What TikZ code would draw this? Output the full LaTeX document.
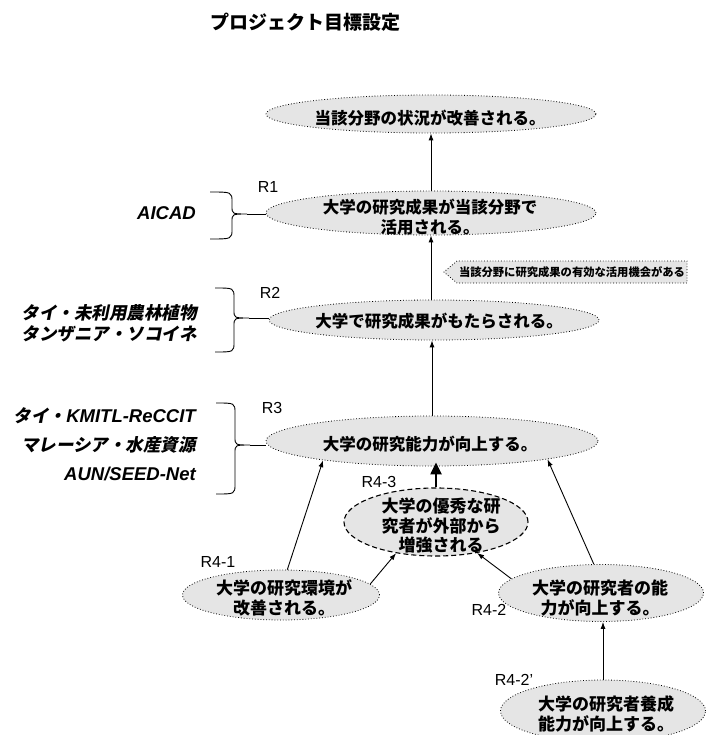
\documentclass[tikz,border=0pt]{standalone}
\usepackage{fontspec}
\setmainfont{Noto Sans CJK JP}
\newfontfamily\jpsl{Noto Sans CJK JP}[FakeSlant=0.2]
\newfontfamily\latf{Liberation Sans}
\usetikzlibrary{shapes.geometric,shapes.symbols,arrows.meta,calc}

\tikzset{
 ell/.style={ellipse, draw, dotted, line width=0.8pt, fill=black!10, inner sep=0pt},
 dell/.style={ellipse, draw, dash pattern=on 5pt off 3pt, line width=1.1pt, fill=black!10, inner sep=0pt},
 etxt/.style={align=center, font=\bfseries\fontsize{16.5}{19.5}\selectfont, inner sep=0pt},
 ftxt/.style={align=center, font=\bfseries\fontsize{17}{19.5}\selectfont, inner sep=0pt},
 rlab/.style={font=\latf\fontsize{16}{18}\selectfont, inner sep=0pt},
 plab/.style={anchor=east, align=right, font=\jpsl\bfseries\fontsize{17.5}{21}\selectfont, inner sep=0pt},
 plabw/.style={plab, font=\jpsl\bfseries\fontsize{17.5}{29}\selectfont},
 arr/.style={-{Latex[length=7pt,width=5pt]}, line width=0.9pt},
 bigarr/.style={-{Triangle[length=12pt,width=11pt]}, line width=2.2pt},
 brc/.style={line width=0.9pt},
}
\newcommand\jbrace[6]{% top, bottom, tip y, name, end x, vertical x
 \draw[brc] (#5,#1) .. controls (#6,#1) .. (#6,#1+10) -- (#6,#3-8)
   .. controls (#6,#3) .. (#6+15,#3) coordinate (#4)
   .. controls (#6,#3) .. (#6,#3+8) -- (#6,#2-10)
   .. controls (#6,#2) .. (#5,#2);}
\newcommand\latbi[1]{{\latf\bfseries\itshape\fontsize{18.5}{21}\selectfont #1}}

\begin{document}
\begin{tikzpicture}[x=1pt,y=-1pt]
\useasboundingbox (0,0) rectangle (706,735);
\fill[white] (0,0) rectangle (706,735);
\clip (0,0) rectangle (706,735);

% title
\node[font=\bfseries\fontsize{19}{22}\selectfont, inner sep=0pt] (title) at (305,22) {プロジェクト目標設定};

% main ellipses
\node[ell, minimum width=330pt, minimum height=38pt] (e0) at (431,114) {};
\node[etxt] (t0) at (430,118) {当該分野の状況が改善される。};

\node[ell, minimum width=330pt, minimum height=44pt] (e1) at (431,213) {};
\node[etxt] (t1) at (430,217) {大学の研究成果が当該分野で\\活用される。};

\node[ell, minimum width=330pt, minimum height=40pt] (e2) at (434,320) {};
\node[etxt] (t2) at (439,321) {大学で研究成果がもたらされる。};

\node[ell, minimum width=332pt, minimum height=50pt] (e3) at (432,441) {};
\node[etxt] (t3) at (430,444) {大学の研究能力が向上する。};

% lower ellipses
\node[dell, minimum width=184pt, minimum height=68pt] (e43) at (436,522) {};
\node[ftxt] (t43) at (441,526) {大学の優秀な研\\究者が外部から\\増強される};

\node[ell, minimum width=197pt, minimum height=50pt] (e41) at (281,595) {};
\node[ftxt] (t41) at (284,598) {大学の研究環境が\\改善される。};

\node[ell, minimum width=205pt, minimum height=57pt] (e42) at (601,593) {};
\node[ftxt] (t42) at (600,598) {大学の研究者の能\\力が向上する。};

\node[ell, minimum width=205pt, minimum height=62pt] (e422) at (603,711) {};
\node[ftxt] (t422) at (606,714) {大学の研究者養成\\能力が向上する。};

% callout
\node[signal, signal to=west, signal pointer angle=80, draw, dotted, line width=0.8pt,
      fill=black!10, font=\bfseries\fontsize{11.3}{13}\selectfont,
      inner xsep=2pt, inner ysep=2pt, minimum height=22pt] (cond) at (572,272)
      {当該分野に研究成果の有効な活用機会がある};

% R labels
\node[rlab] (r1) at (268,187) {R1};
\node[rlab] (r2) at (270,293) {R2};
\node[rlab] (r3) at (272,408) {R3};
\node[rlab] (r43) at (379,482) {R4-3};
\node[rlab] (r41) at (218,562) {R4-1};
\node[rlab] (r42) at (489,610) {R4-2};
\node[rlab] (r422) at (514,680) {R4-2’};

% project labels
\node[plab] (p1) at (196,213) {\latbi{AICAD}};
\node[plab] (p2) at (197,323) {タイ・未利用農林植物\\タンザニア・ソコイネ};
\node[plabw] (p3) at (196,444) {タイ・\latbi{KMITL-ReCCIT}\\マレーシア・水産資源\\\latbi{AUN/SEED-Net}};

% braces
\jbrace{192}{239}{214}{b1}{210}{232}
\jbrace{288}{352}{318}{b2}{215}{234}
\jbrace{403}{494}{445}{b3}{216}{235}
\draw[brc] (b1) -- (b1 -| e1.west);
\draw[brc] (b2) -- (b2 -| e2.west);
\draw[brc] (b3) -- (b3 -| e3.west);

% arrows
\draw[arr] (e1.north) -- (e1.north |- e0.south);
\draw[arr] (e2.north -| e1.north) -- (e1.south);
\draw[arr] (e3.north) -- (e3.north |- e2.south);
\draw[bigarr, shorten >=-4pt] (e43.north) -- (e43.north |- e3.south);
\draw[arr] (e41.76) -- (e3.190);
\draw[arr] (e41.7) -- (e43.218);
\draw[arr] (e42.104) -- (e3.351);
\draw[arr] (e42.171) -- (e43.323);
\draw[arr] (e422.north) -- (e422.north |- e42.south);
\end{tikzpicture}
\end{document}
